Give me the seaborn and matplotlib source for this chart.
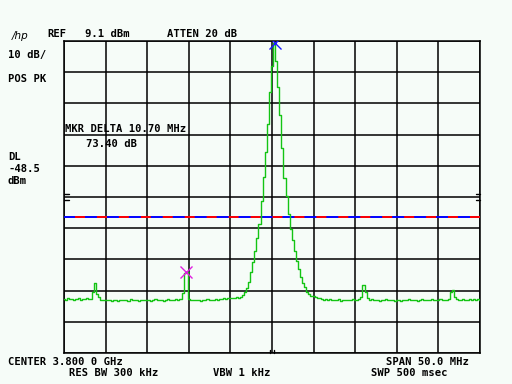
import numpy as np
import pandas as pd
import matplotlib
matplotlib.use("Agg")
import matplotlib.pyplot as plt
import matplotlib.transforms as mtrans
import seaborn as sns

START_MHZ = 3775.0
STOP_MHZ = 3825.0
REF_DBM = 9.1
DB_PER_DIV = 10.0
N_DIV = 10

# swept trace, 0.25 MHz per point, 3775.00 ... 3825.00 MHz (dBm)
trace_dbm = [
    -73.5, -73.8, -73.4, -73.7, -73.5, -73.9, -73.6, -73.4, -73.8, -73.5,
    -73.7, -73.3, -73.6, -73.5, -71.2, -68.5, -72.0, -73.0, -73.9, -74.0,
    -73.8, -74.0, -73.9, -74.1, -73.8, -73.9, -74.2, -73.9, -73.8, -74.0,
    -73.9, -74.1, -73.7, -73.9, -74.0, -73.8, -74.1, -73.9, -73.8, -74.0,
    -73.9, -73.8, -74.1, -73.9, -73.6, -74.0, -73.8, -73.9, -74.1, -73.8,
    -73.7, -73.9, -74.0, -73.8, -73.6, -73.9, -73.7, -71.6, -65.3, -65.0,
    -73.6, -73.9, -73.8, -74.0, -73.8, -73.9, -74.1, -73.8, -73.9, -73.7,
    -74.0, -73.8, -73.9, -73.6, -73.8, -73.7, -73.6, -73.4, -73.5, -73.3,
    -73.4, -73.2, -73.3, -73.1, -73.3, -73.0, -72.4, -71.5, -70.2, -68.3,
    -65.0, -61.6, -58.1, -53.9, -49.6, -42.2, -34.5, -26.5, -17.6, -7.3,
    1.2, 8.4, 2.8, -5.6, -14.6, -25.3, -34.7, -40.7, -46.4, -51.0,
    -54.6, -58.1, -61.4, -64.1, -66.4, -68.4, -69.9, -71.3, -72.0, -72.6,
    -72.7, -73.0, -73.2, -73.4, -73.6, -73.8, -73.5, -73.9, -73.7, -74.0,
    -73.8, -73.9, -73.7, -74.1, -73.8, -73.9, -74.0, -73.8, -73.9, -73.7,
    -73.9, -73.8, -73.6, -72.9, -69.1, -71.5, -73.4, -73.9, -73.7, -74.0,
    -73.8, -73.9, -74.1, -73.8, -73.9, -73.7, -74.0, -73.8, -73.9, -74.1,
    -73.8, -73.9, -74.1, -73.8, -74.0, -73.9, -73.7, -74.0, -73.8, -73.9,
    -74.1, -73.8, -73.7, -73.9, -74.0, -73.8, -73.9, -73.6, -73.9, -73.8,
    -73.9, -73.7, -74.0, -73.8, -73.9, -73.6, -71.2, -70.8, -72.8, -73.6,
    -73.8, -73.9, -73.7, -74.0, -73.8, -73.6, -73.9, -73.7, -73.8, -73.6,
    -73.8,
]

marker_freq_mhz = [3800.35, 3789.65]
marker_dbm = [8.4, -65.0]
marker_colors = ["#1a1aff", "#e01ee0"]

dl_dbm = -47.4                      # display line as drawn on screen
threshold_ticks_dbm = [-39.9, -41.9]  # short "=" marks at the graticule edges

# annotation texts: (x px, y px, text)
screen_texts = [
    (47, 34, "REF"),
    (85, 34, "9.1 dBm"),
    (167, 34, "ATTEN 20 dB"),
    (8, 55, "10 dB/"),
    (8, 79, "POS PK"),
    (65, 129.5, "MKR DELTA 10.70 MHz"),
    (86, 144.5, "73.40 dB"),
    (8, 157.5, "DL"),
    (8, 169.5, "-48.5"),
    (8, 181, "dBm"),
    (8, 362, "CENTER 3.800 0 GHz"),
    (386, 362, "SPAN 50.0 MHz"),
    (69, 372.5, "RES BW 300 kHz"),
    (213, 372.5, "VBW 1 kHz"),
    (371, 372.5, "SWP 500 msec"),
]

# ---------------- style ----------------
BG = "#f6fcf8"
GREEN = "#14c414"
sns.set_style("white")
plt.rcParams["font.family"] = ["DejaVu Sans Mono", "DejaVu Sans"]
plt.rcParams["lines.scale_dashes"] = False

W, H = 512, 384
fig = plt.figure(figsize=(W / 100, H / 100), dpi=100, facecolor=BG)
ax = fig.add_axes([64 / W, 1 - 353 / H, 416 / W, 312 / H])
ax.set_facecolor(BG)

freq = np.linspace(START_MHZ, STOP_MHZ, len(trace_dbm))
df = pd.DataFrame({"freq": freq, "dbm": trace_dbm})

sns.lineplot(data=df, x="freq", y="dbm", ax=ax, color=GREEN, lw=1.0,
             drawstyle="steps-mid", estimator=None, zorder=4)

# display line (alternating blue / red)
ax.axhline(dl_dbm, color="#0000ff", lw=1.4, zorder=3)
ax.axhline(dl_dbm, color="#ff0000", lw=1.4, zorder=3,
           linestyle=(7.9, (7.2, 8.6)))

# markers
for f, d, c in zip(marker_freq_mhz, marker_dbm, marker_colors):
    sns.scatterplot(x=[f], y=[d], ax=ax, marker="x", s=75, color=c,
                    linewidth=1.0, zorder=6)

# graticule
ax.set_xlim(START_MHZ, STOP_MHZ)
ax.set_ylim(REF_DBM - DB_PER_DIV * N_DIV, REF_DBM)
ax.set_xticks(np.linspace(START_MHZ, STOP_MHZ, N_DIV + 1))
ax.set_yticks([REF_DBM - DB_PER_DIV * k for k in range(N_DIV + 1)])
ax.grid(True, color="black", lw=1.1, zorder=2)
ax.set_axisbelow(True)
ax.tick_params(length=0, labelbottom=False, labelleft=False)
ax.set_xlabel("")
ax.set_ylabel("")
for s in ax.spines.values():
    s.set_color("black")
    s.set_linewidth(1.1)
    s.set_visible(True)

# edge marks
bt = mtrans.blended_transform_factory(ax.transAxes, ax.transData)
for yv in threshold_ticks_dbm:
    ax.plot([0, 5 / 416], [yv, yv], color="black", lw=1.0, transform=bt,
            clip_on=False, zorder=5)
    ax.plot([1 - 4 / 416, 1], [yv, yv], color="black", lw=1.0, transform=bt,
            clip_on=False, zorder=5)
for xf in [0.495, 0.505]:
    ax.plot([xf, xf], [0, 3 / 312], color="black", lw=1.0,
            transform=ax.transAxes, clip_on=False, zorder=5)

# texts
for x, y, s in screen_texts:
    fig.text(x / W, 1 - y / H, s, fontsize=7.6, fontweight="bold",
             ha="left", va="center", color="black")

# hp logo
fig.text(12 / W, 1 - 36 / H, "/hp", fontsize=7.5, style="italic",
         family=["DejaVu Sans"], ha="left", va="center", color="black")

fig.savefig("out.png", dpi=100, facecolor=BG)
